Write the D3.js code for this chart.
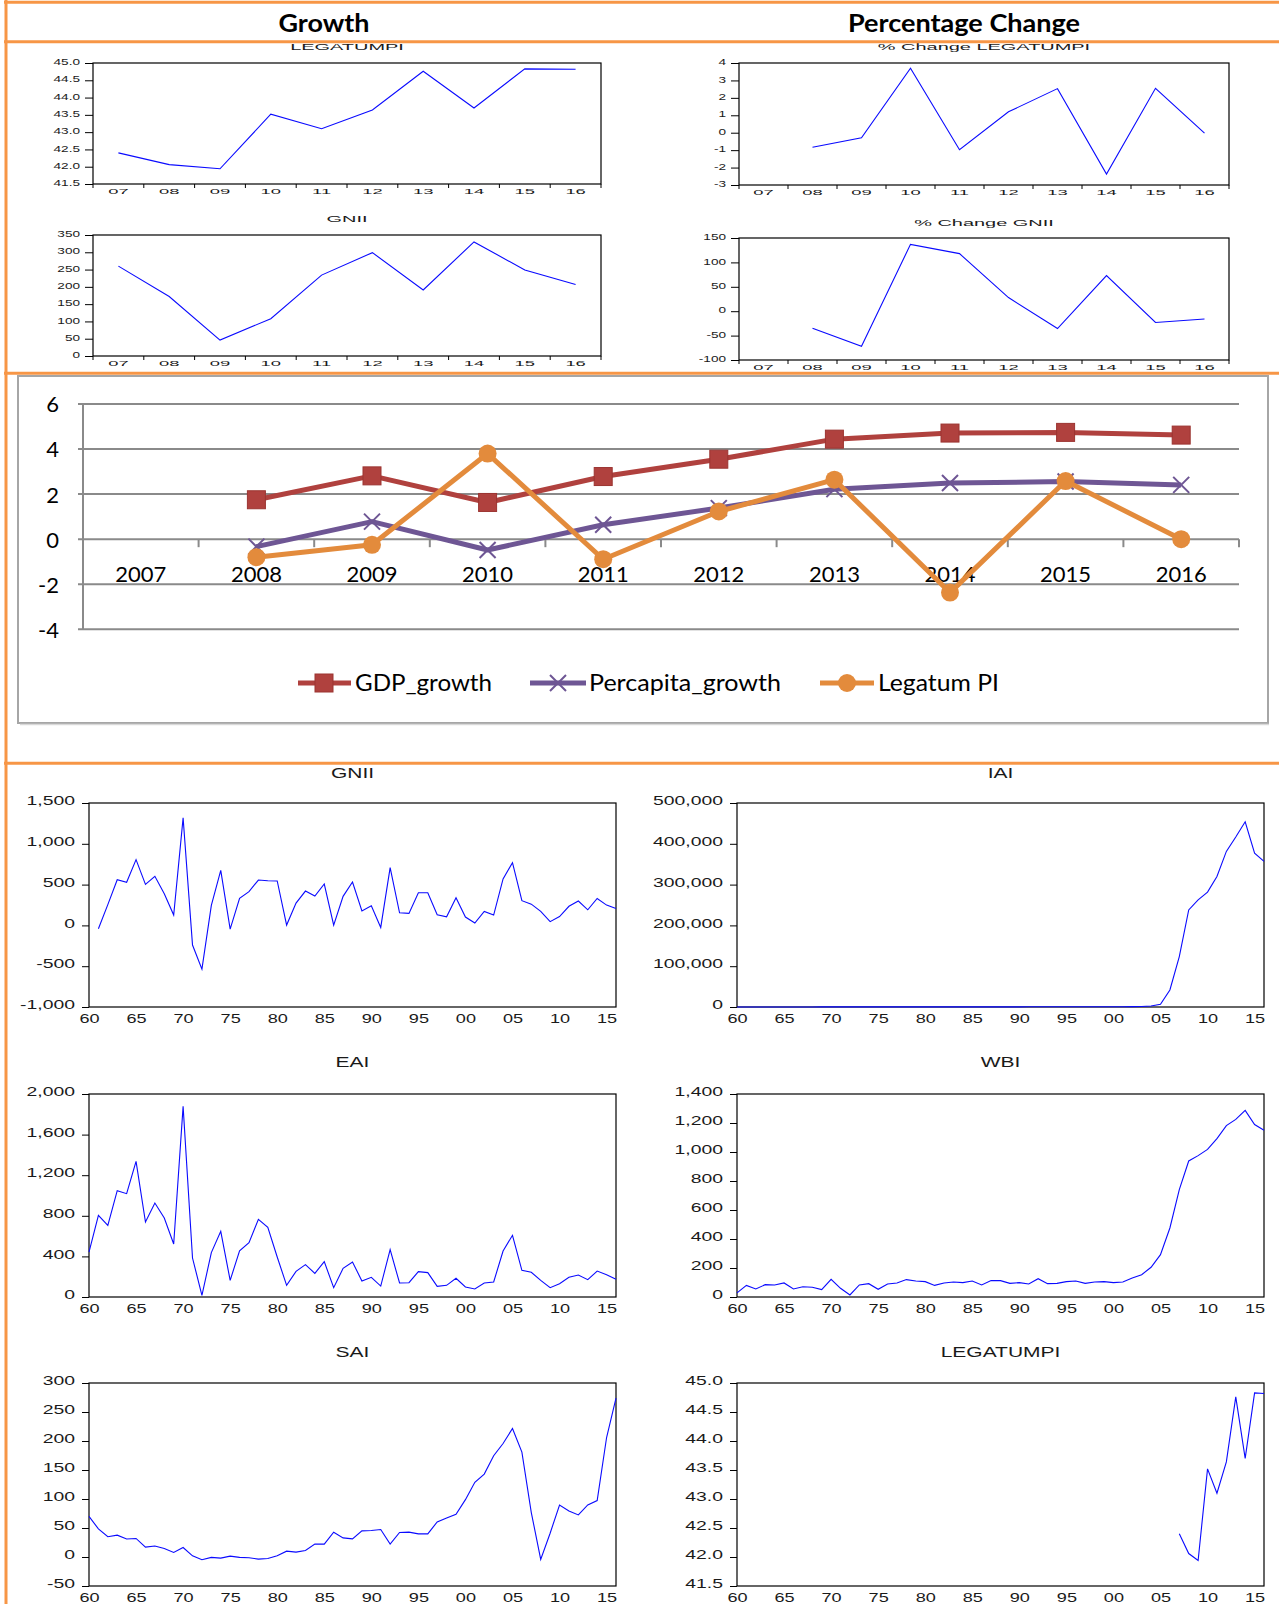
<!DOCTYPE html>
<html><head><meta charset="utf-8">
<script src="https://cdn.jsdelivr.net/npm/d3@7"></script>
<style>body{margin:0;background:#fff}svg{display:block}</style>
</head><body>
<svg id="c" width="1279" height="1604"></svg>
<script>
// ---------------- DATA ----------------
const topCats = ["07","08","09","10","11","12","13","14","15","16"];
const legatumTop = [42.40, 42.06, 41.94, 43.52, 43.10, 43.64, 44.76, 43.70, 44.83, 44.82];
const gniiTop = [260, 172, 46, 108, 234, 299, 191, 330, 249, 207];
const pctLegatum = [null, -0.83, -0.29, 3.70, -0.98, 1.20, 2.53, -2.37, 2.55, -0.02];
const pctGnii = [null, -35, -72, 137, 118, 28, -35.5, 73, -23, -16];
const legatumTicks = [41.5, 42.0, 42.5, 43.0, 43.5, 44.0, 44.5, 45.0];
const pctLegatumTicks = [-3, -2, -1, 0, 1, 2, 3, 4];
const gniiTopTicks = [0, 50, 100, 150, 200, 250, 300, 350];
const pctGniiTicks = [-100, -50, 0, 50, 100, 150];

const midYears = ["2007","2008","2009","2010","2011","2012","2013","2014","2015","2016"];
const gdpGrowth = [null, 1.75, 2.81, 1.63, 2.78, 3.55, 4.44, 4.71, 4.74, 4.62];
const percapitaGrowth = [null, -0.33, 0.78, -0.48, 0.64, 1.38, 2.22, 2.49, 2.56, 2.41];
const legatumPI = [null, -0.80, -0.25, 3.80, -0.89, 1.23, 2.64, -2.37, 2.58, 0.00];
const midYTicks = [-4, -2, 0, 2, 4, 6];
const seriesNames = ["GDP_growth", "Percapita_growth", "Legatum PI"];

const annualYears = d3.range(1960, 2017);
const annualXTicks = [1960,1965,1970,1975,1980,1985,1990,1995,2000,2005,2010,2015];
const gniiAnnual = [null, -41, 254, 560, 528, 806, 503, 601, 389, 127,
  1318, -241, -536, 246, 675, -45, 331, 413, 556, 548,
  544, 4, 274, 421, 360, 507, 4, 356, 532, 176,
  241, -25, 708, 155, 147, 401, 401, 131, 106, 340,
  102, 29, 172, 127, 569, 769, 303, 260, 172, 46,
  108, 234, 299, 191, 330, 249, 207];
const iaiAnnual = [120, 130, 140, 150, 150, 160, 170, 170, 180, 190,
  200, 200, 210, 220, 230, 240, 250, 260, 270, 280,
  290, 300, 310, 320, 330, 340, 350, 360, 380, 400,
  420, 440, 460, 480, 500, 520, 550, 580, 610, 650,
  700, 760, 850, 1200, 2500, 6500, 41700, 123600, 238000, 262700,
  281500, 320000, 381300, 416500, 454000, 377000, 356800];
const eaiAnnual = [443, 805, 706, 1048, 1018, 1337, 739, 926, 778, 522,
  1878, 384, 16, 437, 647, 164, 456, 535, 765, 686,
  394, 115, 253, 319, 233, 348, 92, 282, 345, 158,
  194, 108, 466, 138, 141, 250, 240, 105, 115, 184,
  99, 79, 138, 148, 453, 608, 263, 243, 164, 92,
  131, 194, 217, 171, 256, 220, 174];
const wbiAnnual = [28, 80, 55, 85, 83, 97, 55, 71, 67, 51,
  122, 60, 14, 83, 92, 53, 90, 97, 120, 110,
  106, 80, 97, 103, 99, 110, 83, 113, 113, 94,
  99, 90, 126, 92, 94, 106, 110, 94, 103, 106,
  99, 103, 131, 154, 205, 292, 476, 740, 938, 975,
  1018, 1092, 1182, 1225, 1287, 1189, 1150];
const saiAnnual = [70, 48.5, 35, 37.6, 31, 32, 17, 19, 14.7, 7.8,
  16.4, 2, -4.8, -0.7, -1.9, 1.5, -0.7, -1.3, -3.6, -2.5,
  2.1, 10.1, 8.4, 11.3, 22.2, 22.2, 42.8, 33, 31.3, 45,
  45.6, 47.4, 22.2, 42.2, 42.8, 39.9, 39.9, 60.5, 67.4, 73.7,
  98.9, 128.7, 143, 174.5, 195.7, 221.5, 180.8, 76.6, -4.2, 41,
  89.7, 79.4, 72.6, 89.7, 97.2, 206, 274];
const legatumAnnual = annualYears.map(y => y < 2007 ? null : legatumTop[y - 2007]);
const gniiTicks = [-1000, -500, 0, 500, 1000, 1500];
const iaiTicks = [0, 100000, 200000, 300000, 400000, 500000];
const eaiTicks = [0, 400, 800, 1200, 1600, 2000];
const wbiTicks = [0, 200, 400, 600, 800, 1000, 1200, 1400];
const saiTicks = [-50, 0, 50, 100, 150, 200, 250, 300];

// ---------------- RENDER ----------------
const svg = d3.select("#c");
const EV = "'Liberation Sans', Arial, sans-serif";
const XL = "Lato, 'Open Sans', sans-serif";
const ORANGE = "#F79646";
const hy = s => String(s).replace(/\u2212/g, "-");
const fmtComma = d => hy(d3.format(",")(d));
const fmt1 = d => hy(d3.format(".1f")(d));
const fmtInt = d => hy(d3.format("d")(d));

function stretch(sel, sx) {
  sel.each(function () {
    const t = d3.select(this);
    const x = +t.attr("x") || 0;
    t.attr("x", x / sx).attr("transform", `scale(${sx},1)`);
  });
}

function mini(c) {
  const g = svg.append("g");
  const x = c.band
    ? d3.scaleBand().domain(c.cats).range([c.l, c.r])
    : d3.scaleLinear().domain([1960, 2016]).range([c.l, c.r]);
  const y = d3.scaleLinear().domain(c.yDomain).range([c.b, c.t]);
  const px = d => c.band ? x(d) + x.bandwidth() / 2 : x(d);

  g.append("rect").attr("x", c.l).attr("y", c.t).attr("width", c.r - c.l).attr("height", c.b - c.t)
    .attr("fill", "none").attr("stroke", "#000").attr("stroke-width", 1.2);

  const ya = g.append("g").attr("transform", `translate(${c.l},0)`)
    .call(d3.axisLeft(y).tickValues(c.yTicks).tickFormat(c.fmt).tickSize(c.ytick).tickPadding(c.ypad));
  ya.select(".domain").remove();
  ya.selectAll("line").attr("stroke", "#000");
  ya.selectAll("text").attr("font-family", EV).attr("font-size", c.yfs).attr("fill", "#1a1a1a").attr("dy", c.ydy);
  stretch(ya.selectAll("text"), c.ysx);

  const xa = g.append("g").attr("transform", `translate(0,${c.b})`)
    .call(c.band
      ? d3.axisBottom(x).tickSize(0)
      : d3.axisBottom(x).tickValues(annualXTicks).tickFormat(d => String(d).slice(2)).tickSize(0));
  xa.select(".domain").remove();
  xa.selectAll("text").attr("font-family", EV).attr("font-size", c.xfs).attr("fill", "#1a1a1a")
    .attr("y", c.xoff).attr("dy", "0.36em");
  stretch(xa.selectAll("text"), c.xsx);

  if (c.band) {
    const bounds = c.cats.map(d => x(d)).concat([x.range()[1]]);
    g.selectAll(null).data(bounds).enter().append("line")
      .attr("x1", d => d).attr("x2", d => d).attr("y1", c.b).attr("y2", c.b + 4)
      .attr("stroke", "#000").attr("stroke-width", 1);
  }

  const pts = c.cats.map((d, i) => ({ k: d, v: c.values[i] }));
  const line = d3.line().defined(d => d.v != null).x(d => px(d.k)).y(d => y(d.v));
  g.append("path").datum(pts).attr("d", line).attr("fill", "none")
    .attr("stroke", "#0a0aff").attr("stroke-width", 1.1);

  g.append("text").attr("transform", `translate(${(c.l + c.r) / 2},${c.titleY}) scale(${c.tsx},1)`)
    .attr("text-anchor", "middle").attr("dy", "0.36em")
    .attr("font-family", EV).attr("font-size", c.tfs).attr("fill", "#1a1a1a").text(c.title);
}

const topStyle = { band: true, cats: topCats, ytick: 8, ypad: 5, yfs: 8.5, ysx: 1.6, ydy: "0.2em", xfs: 8, xsx: 2.3, xoff: 7.5, tfs: 9.5, tsx: 2.1 };
const botStyle = { band: false, cats: annualYears, ytick: 7, ypad: 7, yfs: 12.5, ysx: 1.55, ydy: "0.14em", xfs: 12.5, xsx: 1.45, xoff: 12, tfs: 14, tsx: 1.5 };

mini(Object.assign({}, topStyle, { l: 93, r: 601, t: 63, b: 184, titleY: 46.5, title: "LEGATUMPI",
  yDomain: [41.5, 45], yTicks: legatumTicks, fmt: fmt1, values: legatumTop }));
mini(Object.assign({}, topStyle, { l: 739, r: 1229, t: 63, b: 185, titleY: 46.5, title: "% Change LEGATUMPI",
  yDomain: [-3, 4], yTicks: pctLegatumTicks, fmt: fmtInt, values: pctLegatum }));
mini(Object.assign({}, topStyle, { l: 93, r: 601, t: 235, b: 356, titleY: 219, title: "GNII",
  yDomain: [0, 350], yTicks: gniiTopTicks, fmt: fmtInt, values: gniiTop }));
mini(Object.assign({}, topStyle, { l: 739, r: 1229, t: 238, b: 360, titleY: 222.5, title: "% Change GNII",
  yDomain: [-100, 150], yTicks: pctGniiTicks, fmt: fmtInt, values: pctGnii }));

mini(Object.assign({}, botStyle, { l: 89, r: 616, t: 803, b: 1007, titleY: 773, title: "GNII",
  yDomain: [-1000, 1500], yTicks: gniiTicks, fmt: fmtComma, values: gniiAnnual }));
mini(Object.assign({}, botStyle, { l: 737, r: 1264, t: 803, b: 1007, titleY: 773, title: "IAI",
  yDomain: [0, 500000], yTicks: iaiTicks, fmt: fmtComma, values: iaiAnnual }));
mini(Object.assign({}, botStyle, { l: 89, r: 616, t: 1094, b: 1297, titleY: 1062, title: "EAI",
  yDomain: [0, 2000], yTicks: eaiTicks, fmt: fmtComma, values: eaiAnnual }));
mini(Object.assign({}, botStyle, { l: 737, r: 1264, t: 1094, b: 1297, titleY: 1062, title: "WBI",
  yDomain: [0, 1400], yTicks: wbiTicks, fmt: fmtComma, values: wbiAnnual }));
mini(Object.assign({}, botStyle, { l: 89, r: 616, t: 1383, b: 1586, titleY: 1352, title: "SAI",
  yDomain: [-50, 300], yTicks: saiTicks, fmt: fmtComma, values: saiAnnual }));
mini(Object.assign({}, botStyle, { l: 737, r: 1264, t: 1383, b: 1586, titleY: 1352, title: "LEGATUMPI",
  yDomain: [41.5, 45], yTicks: legatumTicks, fmt: fmt1, values: legatumAnnual }));

// ---------- middle Excel-style chart ----------
const mg = svg.append("g");
mg.append("rect").attr("x", 18).attr("y", 376).attr("width", 1250).attr("height", 347)
  .attr("fill", "#fff").attr("stroke", "#a6a6a6").attr("stroke-width", 2);
mg.append("line").attr("x1", 20).attr("x2", 1269).attr("y1", 724.5).attr("y2", 724.5)
  .attr("stroke", "#d9d9d9").attr("stroke-width", 1.5);

const xm = d3.scaleBand().domain(midYears).range([83, 1239]);
const ym = d3.scaleLinear().domain([-4, 6]).range([629.3, 404]);
const GRID = "#8a8a8a";

mg.selectAll(".grid").data(midYTicks).enter().append("line")
  .attr("x1", 78).attr("x2", 1239).attr("y1", d => ym(d)).attr("y2", d => ym(d))
  .attr("stroke", GRID).attr("stroke-width", 2);
mg.append("line").attr("x1", 83).attr("x2", 83).attr("y1", ym(6)).attr("y2", ym(-4))
  .attr("stroke", GRID).attr("stroke-width", 2);
const bounds = midYears.map(d => xm(d)).concat([xm.range()[1]]);
mg.selectAll(".xt").data(bounds).enter().append("line")
  .attr("x1", d => d).attr("x2", d => d).attr("y1", ym(0)).attr("y2", ym(0) + 8)
  .attr("stroke", GRID).attr("stroke-width", 2);

const yAx = mg.append("g").attr("transform", "translate(83,0)")
  .call(d3.axisLeft(ym).tickValues(midYTicks).tickFormat(fmtInt).tickSize(0).tickPadding(24));
yAx.select(".domain").remove();
yAx.selectAll("text").attr("font-family", XL).attr("font-size", 22).attr("fill", "#000").attr("dy", "0.36em");

const xAx = mg.append("g").attr("transform", `translate(0,${ym(0)})`)
  .call(d3.axisBottom(xm).tickSize(0));
xAx.select(".domain").remove();
xAx.selectAll("text").attr("font-family", XL).attr("font-size", 22).attr("fill", "#000")
  .attr("y", 43).attr("dy", 0);

const colors = ["#B0413E", "#6E5694", "#E38B3C"];
const mids = [gdpGrowth, percapitaGrowth, legatumPI];
const cx = d => xm(d) + xm.bandwidth() / 2;

function marker(g, kind, x, y, col) {
  if (kind === 0) {
    g.append("rect").attr("x", x - 9).attr("y", y - 9).attr("width", 18).attr("height", 18)
      .attr("fill", col).attr("stroke", "#9b3431").attr("stroke-width", 1);
  } else if (kind === 1) {
    g.append("path").attr("d", `M${x - 8},${y - 8}L${x + 8},${y + 8}M${x - 8},${y + 8}L${x + 8},${y - 8}`)
      .attr("stroke", col).attr("stroke-width", 2).attr("fill", "none");
  } else {
    g.append("circle").attr("cx", x).attr("cy", y).attr("r", 9).attr("fill", col);
  }
}

mids.forEach((vals, si) => {
  const pts = midYears.map((k, i) => ({ k, v: vals[i] }));
  const ln = d3.line().defined(d => d.v != null).x(d => cx(d.k)).y(d => ym(d.v));
  mg.append("path").datum(pts).attr("d", ln).attr("fill", "none").attr("stroke", colors[si])
    .attr("stroke-width", 5).attr("stroke-linejoin", "round");
  pts.filter(d => d.v != null).forEach(d => marker(mg, si, cx(d.k), ym(d.v), colors[si]));
});

// legend
const legX = [[298, 351, 324, 355, 137], [530, 586, 558, 589, 192], [820, 874, 847, 878, 121]];
const legY = 683;
seriesNames.forEach((name, i) => {
  const [a, b, m, tx, tw] = legX[i];
  mg.append("line").attr("x1", a).attr("x2", b).attr("y1", legY).attr("y2", legY)
    .attr("stroke", colors[i]).attr("stroke-width", 5);
  marker(mg, i, m, legY, colors[i]);
  mg.append("text").attr("x", tx).attr("y", 691).attr("font-family", XL).attr("font-size", 23)
    .attr("fill", "#000").attr("textLength", tw).attr("lengthAdjust", "spacingAndGlyphs").text(name);
});

// headers
svg.append("text").attr("x", 324).attr("y", 32).attr("text-anchor", "middle").attr("font-family", XL)
  .attr("font-weight", "bold").attr("font-size", 25).attr("textLength", 91).attr("lengthAdjust", "spacingAndGlyphs").text("Growth");
svg.append("text").attr("x", 964).attr("y", 32).attr("text-anchor", "middle").attr("font-family", XL)
  .attr("font-weight", "bold").attr("font-size", 25).attr("textLength", 232).attr("lengthAdjust", "spacingAndGlyphs").text("Percentage Change");

// orange frame lines
[2.3, 41.7, 373.3, 763.3].forEach(yv => {
  svg.append("line").attr("x1", 4).attr("x2", 1279).attr("y1", yv).attr("y2", yv)
    .attr("stroke", ORANGE).attr("stroke-width", 3);
});
svg.append("line").attr("x1", 6).attr("x2", 6).attr("y1", 0).attr("y2", 1604)
  .attr("stroke", ORANGE).attr("stroke-width", 3);
</script>
</body></html>
